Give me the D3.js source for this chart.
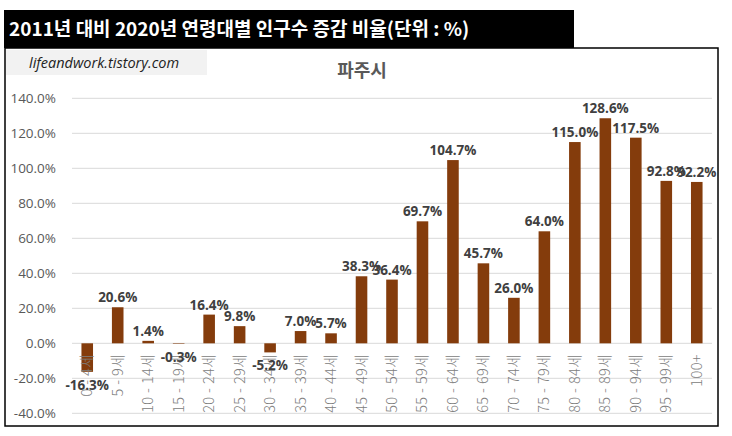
<!DOCTYPE html>
<html>
<head>
<meta charset="utf-8">
<script src="https://cdn.jsdelivr.net/npm/d3@7"></script>
<style>
body { margin: 0; background: #fff; }
text { font-family: "Noto Sans CJK KR", "Noto Sans", sans-serif; }
</style>
</head>
<body>
<svg id="chart" width="732" height="436"></svg>
<script>
var categories = ['0 - 4세', '5 - 9세', '10 - 14세', '15 - 19세', '20 - 24세', '25 - 29세', '30 - 34세',
	'35 - 39세', '40 - 44세', '45 - 49세', '50 - 54세', '55 - 59세', '60 - 64세', '65 - 69세',
	'70 - 74세', '75 - 79세', '80 - 84세', '85 - 89세', '90 - 94세', '95 - 99세', '100+'];
var values = [-16.3, 20.6, 1.4, -0.3, 16.4, 9.8, -5.2, 7.0, 5.7, 38.3, 36.4, 69.7, 104.7, 45.7,
	26.0, 64.0, 115.0, 128.6, 117.5, 92.8, 92.2];
var y_ticks = [-40, -20, 0, 20, 40, 60, 80, 100, 120, 140];

var svg = d3.select('#chart');

// frame + header
svg.append('rect').attr('x', 5).attr('y', 48).attr('width', 713).attr('height', 378)
	.attr('fill', '#fff').attr('stroke', '#000').attr('stroke-width', 1.5);
svg.append('rect').attr('x', 4).attr('y', 10).attr('width', 570).attr('height', 38).attr('fill', '#000');
svg.append('text').attr('x', 9).attr('y', 36).attr('fill', '#fff')
	.attr('font-size', 19).attr('font-weight', 'bold')
	.text('2011년 대비 2020년 연령대별 인구수 증감 비율(단위 : %)');

svg.append('rect').attr('x', 6).attr('y', 50).attr('width', 201).attr('height', 25).attr('fill', '#f2f2f2');
svg.append('text').attr('x', 29).attr('y', 68).attr('fill', '#222')
	.attr('font-size', 14.5).attr('font-style', 'italic')
	.style('font-family', '"Open Sans", sans-serif')
	.text('lifeandwork.tistory.com');

svg.append('text').attr('x', 362).attr('y', 77).attr('text-anchor', 'middle')
	.attr('fill', '#595959').attr('font-size', 18).attr('font-weight', 'bold')
	.text('파주시');

var x = d3.scaleBand().domain(categories).range([72, 712]).paddingInner(0.62).paddingOuter(0.31);
var y = d3.scaleLinear().domain([-40, 140]).range([413.3, 98.3]);

// grid
svg.append('g').selectAll('line').data(y_ticks).enter().append('line')
	.attr('x1', 72).attr('x2', 712)
	.attr('y1', function(d) { return y(d); }).attr('y2', function(d) { return y(d); })
	.attr('stroke', '#d9d9d9').attr('stroke-width', 1);

// y axis labels
svg.append('g').selectAll('text').data(y_ticks).enter().append('text')
	.attr('x', 56).attr('y', function(d) { return y(d) + 4.5; })
	.attr('text-anchor', 'end').attr('fill', '#595959').attr('font-size', 13.5)
	.style('font-family', '"Open Sans", sans-serif')
	.text(function(d) { return d.toFixed(1) + '%'; });

// bars
svg.append('g').selectAll('rect').data(values).enter().append('rect')
	.attr('x', function(d, i) { return x(categories[i]); })
	.attr('width', x.bandwidth())
	.attr('y', function(d) { return y(Math.max(0, d)); })
	.attr('height', function(d) { return Math.abs(y(d) - y(0)); })
	.attr('fill', '#843c0c');

// category labels
svg.append('g').selectAll('text').data(categories).enter().append('text')
	.attr('transform', function(d) { return 'translate(' + (x(d) + x.bandwidth() / 2 + 5) + ',354) rotate(-90)'; })
	.attr('text-anchor', 'end').attr('fill', '#808080').attr('font-size', 14.5)
	.attr('font-weight', 300).attr('letter-spacing', 0.4)
	.text(function(d) { return d; });

// value labels
svg.append('g').selectAll('text').data(values).enter().append('text')
	.attr('x', function(d, i) { return x(categories[i]) + x.bandwidth() / 2; })
	.attr('y', function(d) { return d >= 0 ? y(d) - 5 : y(d) + 18; })
	.attr('text-anchor', 'middle').attr('fill', '#404040')
	.attr('font-size', 13.5).attr('font-weight', 'bold')
	.style('font-family', '"Open Sans", sans-serif')
	.text(function(d) { return d.toFixed(1) + '%'; });
</script>
</body>
</html>
